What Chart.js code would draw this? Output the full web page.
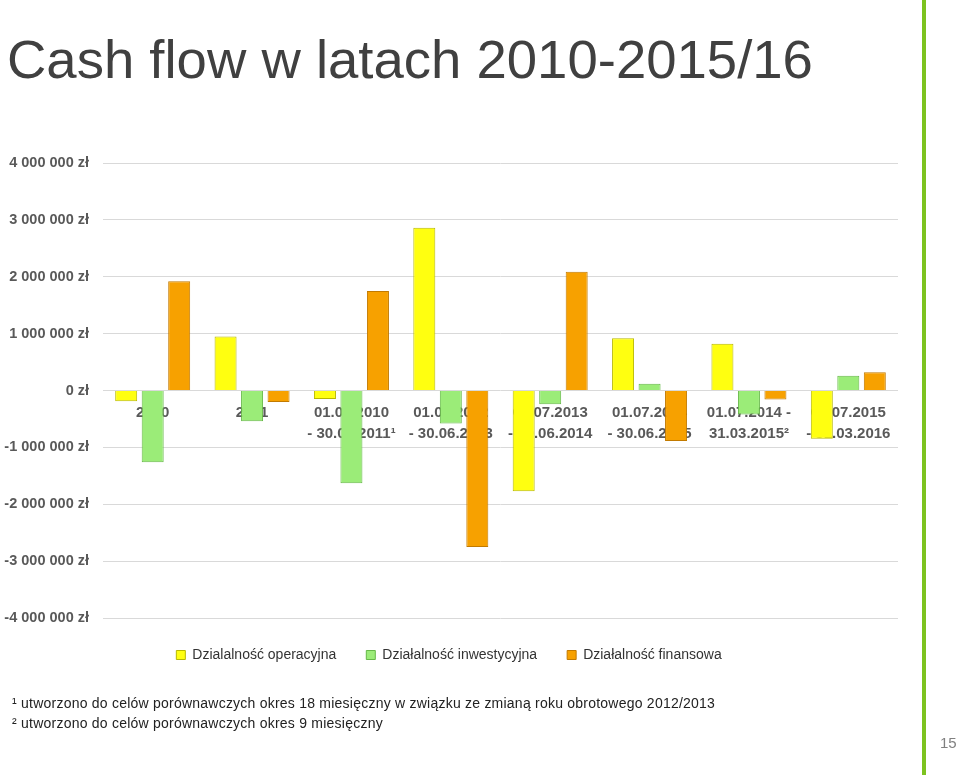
<!DOCTYPE html>
<html>
<head>
<meta charset="utf-8">
<script src="https://cdn.jsdelivr.net/npm/chart.js@4"></script>
<style>
  html, body { margin: 0; padding: 0; background: #fff; }
  body { width: 960px; height: 779px; position: relative; overflow: hidden; font-family: "Liberation Sans", Arial, sans-serif; }
  #c { position: absolute; left: 0; top: 0; }
  #title { position: absolute; left: 7px; top: 33px; margin: 0; font-size: 54.5px; line-height: 1; font-weight: normal; color: #404040; white-space: nowrap; }
  .note { position: absolute; left: 12px; font-size: 14px; line-height: 1; letter-spacing: 0.23px; color: #222; white-space: nowrap; }
  #rule { position: absolute; left: 922px; top: 0; width: 4px; height: 775px; background: #7dc320; }
  #page { position: absolute; left: 940px; top: 735px; font-size: 15px; line-height: 1; color: #808080; }
</style>
</head>
<body>
<canvas id="c" width="960" height="779"></canvas>
<h1 id="title">Cash flow w latach 2010-2015/16</h1>
<div class="note" style="top:696px">¹ utworzono do celów porównawczych okres 18 miesięczny w związku ze zmianą roku obrotowego 2012/2013</div>
<div class="note" style="top:716px">² utworzono do celów porównawczych okres 9 miesięczny</div>
<div id="rule"></div>
<div id="page">15</div>
<script>
// okresy
const categories = [
  ['2010'],
  ['2011'],
  ['01.01.2010', '- 30.06.2011¹'],
  ['01.01.2012', '- 30.06.2013'],
  ['01.07.2013', '- 30.06.2014'],
  ['01.07.2014', '- 30.06.2015'],
  ['01.07.2014 -', '31.03.2015²'],
  ['01.07.2015', '- 31.03.2016']
];

const seriesNames = ['Dzialalność operacyjna', 'Działalność inwestycyjna', 'Działalność finansowa'];

// wartości w zł
const operacyjna = [-190000, 950000, -150000, 2860000, -1770000, 920000, 820000, -850000];
const inwestycyjna = [-1260000, -540000, -1630000, -580000, -240000, 120000, -420000, 260000];
const finansowa = [1920000, -200000, 1750000, -2750000, 2090000, -890000, -160000, 320000];

const yTicks = [4000000, 3000000, 2000000, 1000000, 0, -1000000, -2000000, -3000000, -4000000];

const fontFamily = '"Liberation Sans", Arial, sans-serif';
const axisColor = '#595959';

function formatZl(v) {
  const s = Math.abs(v).toString().replace(/\B(?=(\d{3})+(?!\d))/g, ' ');
  return (v < 0 ? '-' : '') + s + ' zł';
}

const ctx = document.getElementById('c').getContext('2d');
new Chart(ctx, {
  type: 'bar',
  data: {
    labels: categories,
    datasets: [
      { label: seriesNames[0], data: operacyjna, backgroundColor: '#ffff10', borderColor: '#b8b800', borderWidth: 1 },
      { label: seriesNames[1], data: inwestycyjna, backgroundColor: '#9bec78', borderColor: '#66b848', borderWidth: 1 },
      { label: seriesNames[2], data: finansowa, backgroundColor: '#f7a100', borderColor: '#c27a00', borderWidth: 1 }
    ]
  },
  options: {
    responsive: false,
    animation: false,
    categoryPercentage: 0.8,
    barPercentage: 0.83,
    layout: { padding: { left: 0, right: 62, top: 163, bottom: 107 } },
    scales: {
      x: {
        position: { y: 0 },
        grid: { display: false },
        border: { display: false },
        ticks: {
          color: axisColor,
          autoSkip: false,
          maxRotation: 0,
          padding: 4,
          font: { family: fontFamily, size: 15, weight: 'bold', lineHeight: 1.4 }
        }
      },
      y: {
        min: -4000000,
        max: 4000000,
        afterBuildTicks: scale => { scale.ticks = yTicks.map(v => ({ value: v })); },
        afterFit: scale => { scale.width = 103; },
        grid: { color: '#d9d9d9', drawTicks: false },
        border: { display: false },
        ticks: {
          color: axisColor,
          padding: 14,
          font: { family: fontFamily, size: 14.5, weight: 'bold' },
          callback: v => formatZl(v)
        }
      }
    },
    plugins: {
      legend: {
        position: 'bottom',
        labels: {
          boxWidth: 9,
          boxHeight: 9,
          padding: 30,
          color: '#333',
          font: { family: fontFamily, size: 14, lineHeight: 0.7 }
        }
      },
      tooltip: { enabled: false }
    }
  }
});
</script>
</body>
</html>
